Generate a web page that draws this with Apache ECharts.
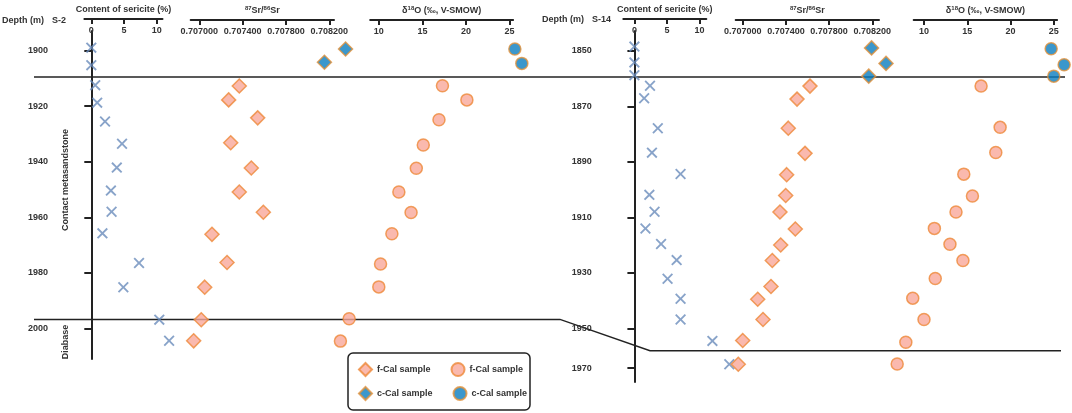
<!DOCTYPE html>
<html><head><meta charset="utf-8">
<script src="https://cdn.jsdelivr.net/npm/echarts@6/dist/echarts.min.js"></script>
<style>html,body{margin:0;padding:0;background:#fff}#c{width:1072px;height:413px}</style>
</head><body><div id="c"></div>
<script>
// ---------- tick labels ----------
const leftDepthTicks = [1900, 1920, 1940, 1960, 1980, 2000];
const rightDepthTicks = [1850, 1870, 1890, 1910, 1930, 1950, 1964.3];
const rightDepthTickLabels = ['1850', '1870', '1890', '1910', '1930', '1950', '1970'];
const sericiteTicks = [0, 5, 10];
const srTicks = [0.7070, 0.7074, 0.7078, 0.7082];
const oTicks = [10, 15, 20, 25];

// ---------- S-2 ----------
const s2SericiteCDepth = [1898.9, 1905.2];
const s2SericiteC = [0, 0];
const s2SericiteFDepth = [1912.4, 1918.7, 1925.5, 1933.5, 1942.1, 1950.4, 1958.0, 1965.8, 1976.5, 1985.2, 1996.9, 2004.5];
const s2SericiteF = [0.6, 0.9, 2.1, 4.7, 3.9, 3.0, 3.1, 1.7, 7.3, 4.9, 10.4, 11.9];
const s2SrCDepth = [1899.0, 1903.8];
const s2SrC = [0.708350, 0.708155];
const s2SrFDepth = [1912.4, 1917.4, 1923.9, 1932.9, 1942.0, 1950.7, 1958.0, 1966.0, 1976.2, 1985.1, 1996.9, 2004.5];
const s2SrF = [0.707369, 0.707271, 0.707539, 0.707290, 0.707480, 0.707369, 0.707591, 0.707117, 0.707256, 0.707050, 0.707018, 0.706948];
const s2OCDepth = [1899.0, 1904.2];
const s2OC = [25.6, 26.4];
const s2OFDepth = [1912.3, 1917.4, 1924.6, 1933.7, 1942.1, 1950.7, 1958.1, 1965.8, 1976.7, 1985.0, 1996.5, 2004.6];
const s2OF = [17.3, 20.1, 16.9, 15.1, 14.3, 12.3, 13.7, 11.5, 10.2, 10.0, 6.6, 5.6];
const s2Boundaries = [1909.5, 1996.8];

// ---------- S-14 ----------
const s14SericiteCDepth = [1848.5, 1854.2, 1858.8];
const s14SericiteC = [0, 0, 0];
const s14SericiteFDepth = [1862.6, 1867.1, 1877.9, 1886.7, 1894.4, 1901.9, 1908.0, 1914.0, 1919.6, 1925.4, 1932.1, 1939.3, 1946.8, 1954.5, 1962.9];
const s14SericiteF = [2.4, 1.5, 3.6, 2.7, 7.1, 2.3, 3.1, 1.7, 4.1, 6.5, 5.1, 7.1, 7.1, 12.0, 14.6];
const s14SrCDepth = [1848.6, 1854.2, 1858.8];
const s14SrC = [0.708193, 0.708327, 0.708167];
const s14SrFDepth = [1862.4, 1867.1, 1877.6, 1886.7, 1894.4, 1901.9, 1907.9, 1914.0, 1919.8, 1925.4, 1934.8, 1939.4, 1946.7, 1954.3, 1962.9];
const s14SrF = [0.707623, 0.707503, 0.707422, 0.707577, 0.707407, 0.707398, 0.707345, 0.707487, 0.707352, 0.707274, 0.707262, 0.707139, 0.707188, 0.707000, 0.706959];
const s14OCDepth = [1848.9, 1854.7, 1858.8];
const s14OC = [24.7, 26.2, 25.0];
const s14OFDepth = [1862.4, 1877.3, 1886.4, 1894.2, 1902.1, 1907.9, 1913.8, 1919.5, 1925.4, 1931.9, 1939.0, 1946.7, 1954.9, 1962.8];
const s14OF = [16.6, 18.8, 18.3, 14.6, 15.6, 13.7, 11.2, 13.0, 14.5, 11.3, 8.7, 10.0, 7.9, 6.9];
const s14Boundaries = [1859.5, 1958.0];

// ---------- styles ----------
const FONT = 'Liberation Sans, Arial, sans-serif';
const DARK = '#222';
const TXT = '#333';
const CROSS = 'path://M1.2,0L5,3.8L8.8,0L10,1.2L6.2,5L10,8.8L8.8,10L5,6.2L1.2,10L0,8.8L3.8,5L0,1.2Z';
const crossStyle = { color: '#6a8cbc' };
const fStyle = { color: '#f9a89a', borderColor: '#ee8838', borderWidth: 1.5 };
const cStyle = { color: '#0a7dbf', borderColor: '#e0903a', borderWidth: 1.5 };

const panels = [
  { yMin: 1892.857, yMax: 2011.07, top: 28, height: 331, axisX: 57,
    ticks: leftDepthTicks, labels: null,
    cols: [
      { left: 84.4, width: 78.1, min: -1.055, max: 10.89 },
      { left: 190.7, width: 143.3, min: 0.7069206, max: 0.7082434 },
      { left: 370.2, width: 142.9, min: 9.014, max: 25.40 }
    ] },
  { yMin: 1842.857, yMax: 1969.29, top: 28, height: 354, axisX: 600.8,
    ticks: rightDepthTicks, labels: rightDepthTickLabels,
    cols: [
      { left: 623.3, width: 83, min: -1.708, max: 11.06 },
      { left: 735.7, width: 143.3, min: 0.7069352, max: 0.7082620 },
      { left: 913.7, width: 143.4, min: 8.809, max: 25.387 }
    ] }
];

const colNames = [
  'Content of sericite (%)',
  '{sup|87}Sr/{sup|86}Sr',
  'δ{sup|18}O (‰, V-SMOW)'
];
const colTicks = [sericiteTicks, srTicks, oTicks];
const colFmt = [v => String(v), v => v.toFixed(6), v => String(v)];

const grid = [], xAxis = [], yAxis = [];
panels.forEach((p, pi) => {
  p.cols.forEach((c, ci) => {
    const gi = grid.length;
    grid.push({ left: c.left, top: p.top, width: c.width, height: p.height });
    xAxis.push({
      type: 'value', gridIndex: gi, position: 'top', offset: 12,
      min: c.min, max: c.max,
      name: colNames[ci], nameLocation: 'middle', nameGap: 4,
      nameTextStyle: { fontFamily: FONT, fontSize: 9, fontWeight: 'bold', color: TXT,
        verticalAlign: 'bottom',
        rich: { sup: { fontSize: 6, fontWeight: 'bold', color: TXT, verticalAlign: 'top', padding: [0, 0, 5, 0] } } },
      axisLine: { show: true, lineStyle: { color: DARK, width: 2 } },
      axisTick: { show: true, inside: true, length: 5, customValues: colTicks[ci], lineStyle: { color: DARK, width: 2 } },
      axisLabel: { inside: true, margin: 7, customValues: colTicks[ci], formatter: colFmt[ci],
        fontFamily: FONT, fontSize: 9, fontWeight: 'bold', color: TXT },
      splitLine: { show: false }
    });
    const yA = {
      type: 'value', gridIndex: gi, inverse: true, min: p.yMin, max: p.yMax,
      splitLine: { show: false }
    };
    if (ci === 0) {
      Object.assign(yA, {
        position: 'left', offset: c.left - p.axisX,
        axisLine: { show: true, lineStyle: { color: DARK, width: 2 } },
        axisTick: { show: true, length: 7, customValues: p.ticks, lineStyle: { color: DARK, width: 2 } },
        axisLabel: { show: true, margin: 9, customValues: p.ticks,
          formatter: v => {
            if (!p.labels) return String(v);
            const i = p.ticks.findIndex(t => Math.abs(t - v) < 0.01);
            return i >= 0 ? p.labels[i] : '';
          },
          fontFamily: FONT, fontSize: 9, fontWeight: 'bold', color: TXT }
      });
    } else {
      yA.show = false;
    }
    yAxis.push(yA);
  });
});

function pairs(vals, depths) { return vals.map((v, i) => [v, depths[i]]); }
function sc(name, gi, vals, depths, symbol, size, style) {
  return { type: 'scatter', name, xAxisIndex: gi, yAxisIndex: gi, data: pairs(vals, depths),
    symbol, symbolSize: size, itemStyle: style, clip: false, z: 3,
    emphasis: { disabled: true } };
}
const ZW = '\u200b';
const series = [
  sc('sericite', 0, s2SericiteC, s2SericiteCDepth, CROSS, 11, crossStyle),
  sc('sericite', 0, s2SericiteF, s2SericiteFDepth, CROSS, 11, crossStyle),
  sc('c-Cal sample', 1, s2SrC, s2SrCDepth, 'diamond', 14, cStyle),
  sc('f-Cal sample', 1, s2SrF, s2SrFDepth, 'diamond', 14, fStyle),
  sc('c-Cal sample' + ZW, 2, s2OC, s2OCDepth, 'circle', 12, cStyle),
  sc('f-Cal sample' + ZW, 2, s2OF, s2OFDepth, 'circle', 12, fStyle),
  sc('sericite', 3, s14SericiteC, s14SericiteCDepth, CROSS, 11, crossStyle),
  sc('sericite', 3, s14SericiteF, s14SericiteFDepth, CROSS, 11, crossStyle),
  sc('c-Cal sample', 4, s14SrC, s14SrCDepth, 'diamond', 14, cStyle),
  sc('f-Cal sample', 4, s14SrF, s14SrFDepth, 'diamond', 14, fStyle),
  sc('c-Cal sample' + ZW, 5, s14OC, s14OCDepth, 'circle', 12, cStyle),
  sc('f-Cal sample' + ZW, 5, s14OF, s14OFDepth, 'circle', 12, fStyle)
];

const legendText = { fontFamily: FONT, fontSize: 9, fontWeight: 'bold', color: TXT };
const legend = [
  { data: ['f-Cal sample', 'f-Cal sample' + ZW], left: 358, top: 362, orient: 'horizontal', padding: 0,
    itemWidth: 13, itemHeight: 13, itemGap: 20, textStyle: legendText, selectedMode: false },
  { data: ['c-Cal sample', 'c-Cal sample' + ZW], left: 358, top: 386, orient: 'horizontal', padding: 0,
    itemWidth: 13, itemHeight: 13, itemGap: 20, textStyle: legendText, selectedMode: false }
];

const txtStyle = t => ({ text: t, fontFamily: FONT, fontSize: 9, fontWeight: 'bold', fill: TXT, verticalAlign: 'middle' });

const chart = echarts.init(document.getElementById('c'), null, { renderer: 'canvas' });
chart.setOption({
  backgroundColor: '#fff',
  animation: false,
  textStyle: { fontFamily: FONT },
  grid, xAxis, yAxis, series, legend
});

// lithologic boundary lines positioned through the depth axes
const yTopL = chart.convertToPixel({ yAxisIndex: 0 }, s2Boundaries[0]);
const yBotL = chart.convertToPixel({ yAxisIndex: 0 }, s2Boundaries[1]);
const yBotR = chart.convertToPixel({ yAxisIndex: 3 }, s14Boundaries[1]);

chart.setOption({
  graphic: [
    { type: 'polyline', z: 0, shape: { points: [[34, yTopL], [1065, yTopL]] }, style: { stroke: DARK, lineWidth: 1.5, fill: null } },
    { type: 'polyline', z: 0, shape: { points: [[34, yBotL], [560, yBotL], [650, yBotR], [1061, yBotR]] }, style: { stroke: DARK, lineWidth: 1.5, fill: null } },
    { type: 'text', x: 2, y: 21, style: txtStyle('Depth (m)') },
    { type: 'text', x: 52, y: 21, style: txtStyle('S-2') },
    { type: 'text', x: 542, y: 20, style: txtStyle('Depth (m)') },
    { type: 'text', x: 592, y: 20, style: txtStyle('S-14') },
    { type: 'text', x: 66, y: 180, rotation: Math.PI / 2,
      style: Object.assign(txtStyle('Contact metasandstone'), { align: 'center' }) },
    { type: 'text', x: 66, y: 342, rotation: Math.PI / 2,
      style: Object.assign(txtStyle('Diabase'), { align: 'center' }) },
    { type: 'rect', shape: { x: 348, y: 353, width: 182, height: 57, r: 5 },
      style: { fill: 'none', stroke: DARK, lineWidth: 1.5 } }
  ]
});
</script></body></html>
